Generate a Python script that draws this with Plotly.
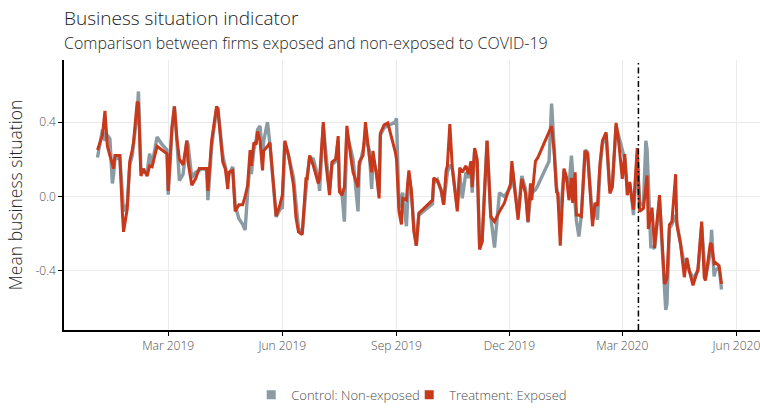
import plotly.graph_objects as go

# Daily mean business situation for exposed (treatment) and non-exposed (control) firms
dates = [
    "2019-01-03", "2019-01-07", "2019-01-09", "2019-01-11", "2019-01-13", "2019-01-15",
    "2019-01-16", "2019-01-17", "2019-01-21", "2019-01-23", "2019-01-24", "2019-01-27",
    "2019-01-29", "2019-01-31", "2019-02-01", "2019-02-04", "2019-02-05", "2019-02-07",
    "2019-02-09", "2019-02-12", "2019-02-14", "2019-02-16", "2019-02-20", "2019-02-24",
    "2019-02-28", "2019-03-01", "2019-03-04", "2019-03-06", "2019-03-08", "2019-03-10",
    "2019-03-13", "2019-03-16", "2019-03-17", "2019-03-20", "2019-03-23", "2019-03-26",
    "2019-03-29", "2019-04-01", "2019-04-02", "2019-04-05", "2019-04-09", "2019-04-10",
    "2019-04-14", "2019-04-16", "2019-04-18", "2019-04-19", "2019-04-22", "2019-04-24",
    "2019-04-27", "2019-04-30", "2019-05-02", "2019-05-04", "2019-05-06", "2019-05-07",
    "2019-05-09", "2019-05-11", "2019-05-12", "2019-05-14", "2019-05-16", "2019-05-17",
    "2019-05-20", "2019-05-22", "2019-05-24", "2019-05-27", "2019-05-30", "2019-06-01",
    "2019-06-03", "2019-06-06", "2019-06-10", "2019-06-12", "2019-06-14", "2019-06-17",
    "2019-06-20", "2019-06-21", "2019-06-23", "2019-06-26", "2019-06-30", "2019-07-01",
    "2019-07-04", "2019-07-06", "2019-07-09", "2019-07-11", "2019-07-14", "2019-07-16",
    "2019-07-17", "2019-07-19", "2019-07-21", "2019-07-23", "2019-07-26", "2019-07-28",
    "2019-08-01", "2019-08-02", "2019-08-05", "2019-08-07", "2019-08-10", "2019-08-12",
    "2019-08-13", "2019-08-16", "2019-08-18", "2019-08-19", "2019-08-22", "2019-08-25",
    "2019-08-31", "2019-09-01", "2019-09-03", "2019-09-05", "2019-09-06", "2019-09-09",
    "2019-09-10", "2019-09-11", "2019-09-13", "2019-09-15", "2019-09-17", "2019-09-19",
    "2019-09-30", "2019-10-01", "2019-10-04", "2019-10-07", "2019-10-09", "2019-10-11",
    "2019-10-12", "2019-10-14", "2019-10-16", "2019-10-20", "2019-10-22", "2019-10-24",
    "2019-10-27", "2019-10-29", "2019-10-31", "2019-11-01", "2019-11-03", "2019-11-05",
    "2019-11-07", "2019-11-09", "2019-11-13", "2019-11-16", "2019-11-19", "2019-11-23",
    "2019-11-27", "2019-12-02", "2019-12-03", "2019-12-06", "2019-12-08", "2019-12-11",
    "2019-12-14", "2019-12-16", "2019-12-18", "2019-12-19", "2019-12-22", "2019-12-24",
    "2020-01-02", "2020-01-04", "2020-01-06", "2020-01-08", "2020-01-09", "2020-01-11",
    "2020-01-14", "2020-01-16", "2020-01-18", "2020-01-20", "2020-01-21", "2020-01-23",
    "2020-01-24", "2020-01-26", "2020-01-28", "2020-01-31", "2020-02-02", "2020-02-06",
    "2020-02-08", "2020-02-10", "2020-02-12", "2020-02-14", "2020-02-17", "2020-02-20",
    "2020-02-22", "2020-02-25", "2020-02-27", "2020-03-01", "2020-03-02", "2020-03-03",
    "2020-03-05", "2020-03-07", "2020-03-09", "2020-03-10", "2020-03-13", "2020-03-15",
    "2020-03-18", "2020-03-20", "2020-03-21", "2020-03-22", "2020-03-24", "2020-03-25",
    "2020-03-27", "2020-03-31", "2020-04-04", "2020-04-05", "2020-04-06", "2020-04-08",
    "2020-04-10", "2020-04-13", "2020-04-14", "2020-04-17", "2020-04-20", "2020-04-22",
    "2020-04-24", "2020-04-27", "2020-04-29", "2020-05-01", "2020-05-04", "2020-05-06",
    "2020-05-07", "2020-05-11", "2020-05-12", "2020-05-14", "2020-05-15", "2020-05-18",
    "2020-05-20",
]

treatment = [
    0.25, 0.33, 0.46, 0.27, 0.22, 0.17, 0.15, 0.22, 0.22, -0.08, -0.19, -0.065,
    0.19, 0.25, 0.29, 0.51, 0.50, 0.11, 0.15, 0.11, 0.165, 0.16, 0.27, 0.25,
    0.23, 0.03, 0.37, 0.485, 0.31, 0.20, 0.17, 0.30, 0.185, 0.06, 0.095, 0.15,
    0.15, 0.15, 0.03, 0.30, 0.485, 0.47, 0.185, 0.15, 0.04, 0.13, 0.14, -0.08,
    -0.045, -0.045, 0.0, 0.06, 0.25, 0.165, 0.29, 0.28, 0.35, 0.30, 0.14, 0.245,
    0.27, 0.29, 0.13, -0.105, -0.045, 0.007, 0.30, 0.22, 0.06, -0.115, -0.19, -0.205,
    0.095, 0.095, 0.22, 0.165, 0.07, 0.10, 0.40, 0.185, 0.007, 0.185, 0.20, 0.325,
    0.026, 0.007, 0.05, 0.38, 0.22, 0.13, 0.05, 0.185, 0.22, 0.40, 0.22, 0.13,
    0.245, 0.11, -0.01, 0.34, 0.385, 0.395, 0.24, 0.20, -0.08, -0.15, -0.01, -0.02,
    0.07, 0.14, 0.03, -0.19, -0.265, -0.09, -0.02, 0.10, 0.085, 0.035, -0.045, 0.14,
    0.165, 0.39, 0.155, -0.08, 0.155, 0.13, 0.165, 0.12, 0.19, 0.05, 0.26, 0.20,
    -0.285, -0.245, 0.30, -0.107, -0.135, -0.08, -0.035, 0.07, 0.19, -0.02, -0.125, 0.095,
    0.016, -0.135, 0.07, -0.02, 0.19, 0.21, 0.34, 0.378, 0.245, 0.025, 0.016, -0.265,
    0.15, 0.105, -0.02, 0.10, -0.035, 0.13, -0.10, -0.10, -0.107, 0.245, 0.23, -0.16,
    -0.035, -0.05, 0.175, 0.30, 0.345, 0.016, 0.05, 0.396, 0.30, 0.095, 0.16, 0.228,
    0.007, 0.078, -0.028, -0.07, 0.26, -0.08, -0.064, 0.05, 0.113, -0.175, -0.10, -0.06,
    -0.276, 0.007, -0.47, -0.46, -0.44, -0.152, -0.135, 0.12, -0.152, -0.258, -0.434, -0.33,
    -0.40, -0.478, -0.434, -0.39, -0.135, -0.434, -0.452, -0.25, -0.26, -0.36, -0.355, -0.373,
    -0.47,
]

control = [
    0.21, 0.36, 0.30, 0.33, 0.31, 0.07, 0.12, 0.20, 0.21, -0.04, -0.08, -0.04,
    0.17, 0.22, 0.28, 0.45, 0.565, 0.14, 0.13, 0.13, 0.23, 0.17, 0.32, 0.28,
    0.25, 0.01, 0.36, 0.485, 0.30, 0.085, 0.12, 0.30, 0.28, 0.10, 0.13, 0.14,
    0.15, 0.14, -0.02, 0.27, 0.47, 0.48, 0.22, 0.16, 0.10, 0.12, 0.16, -0.05,
    -0.12, -0.15, -0.18, 0.02, 0.19, 0.12, 0.25, 0.31, 0.36, 0.38, 0.22, 0.30,
    0.40, 0.28, 0.13, -0.11, -0.07, -0.06, 0.29, 0.22, 0.10, -0.06, -0.17, -0.20,
    0.05, 0.11, 0.21, 0.20, 0.10, 0.03, 0.38, 0.22, 0.03, 0.17, 0.19, 0.30,
    0.05, 0.02, -0.135, 0.34, 0.26, 0.20, -0.08, 0.16, 0.25, 0.32, 0.25, 0.04,
    0.20, 0.13, 0.02, 0.33, 0.37, 0.38, 0.40, 0.42, -0.06, 0.0, 0.02, -0.16,
    0.05, 0.12, 0.02, -0.16, -0.265, -0.10, -0.04, 0.07, 0.09, 0.03, -0.04, 0.10,
    0.13, 0.17, 0.15, -0.06, 0.12, -0.01, 0.13, 0.10, 0.17, 0.02, 0.25, 0.18,
    -0.27, -0.24, 0.30, -0.11, -0.275, 0.02, 0.0, 0.05, 0.16, 0.0, -0.10, 0.11,
    0.04, -0.14, 0.0, 0.02, 0.035, 0.06, 0.19, 0.50, 0.30, 0.05, 0.02, -0.12,
    0.14, 0.10, 0.05, 0.22, 0.13, -0.05, -0.13, -0.215, -0.10, 0.25, 0.24, -0.12,
    -0.05, -0.125, 0.15, 0.28, 0.33, 0.03, 0.07, 0.38, 0.33, 0.25, 0.237, 0.20,
    0.05, 0.07, -0.03, -0.10, 0.22, -0.03, -0.05, 0.30, 0.25, 0.05, -0.27, -0.27,
    -0.28, -0.02, -0.56, -0.61, -0.58, -0.17, -0.15, -0.10, -0.14, -0.25, -0.37, -0.34,
    -0.40, -0.44, -0.42, -0.40, -0.16, -0.40, -0.44, -0.30, -0.18, -0.43, -0.40, -0.38,
    -0.50,
]

x_tick_dates = ["2019-03-01", "2019-06-01", "2019-09-01", "2019-12-01", "2020-03-01", "2020-06-01"]
x_tick_labels = ["Mar 2019", "Jun 2019", "Sep 2019", "Dec 2019", "Mar 2020", "Jun 2020"]
y_tick_values = [-0.4, 0.0, 0.4]
y_tick_labels = ["-0.4", "0.0", "0.4"]
covid_date = "2020-03-14"

GREY = "#8a9ba3"
RED = "#c8381b"
FONT = "Open Sans"
TEXT = "#4d4d4d"

fig = go.Figure()

fig.add_trace(go.Scatter(
    x=dates, y=control, mode="lines", name="Control: Non-exposed",
    line=dict(color=GREY, width=3.4), showlegend=False,
))
fig.add_trace(go.Scatter(
    x=dates, y=treatment, mode="lines", name="Treatment: Exposed",
    line=dict(color=RED, width=3.0), showlegend=False,
))

# square legend keys, one legend box each so the spacing can be set
for label, colour, legend_id in [("Control: Non-exposed", GREY, "legend"),
                                 ("Treatment: Exposed", RED, "legend2")]:
    fig.add_trace(go.Scatter(
        x=[None], y=[None], mode="markers", name=label, legend=legend_id,
        marker=dict(symbol="square", size=9, color=colour),
    ))

fig.add_shape(
    type="line", xref="x", yref="paper", x0=covid_date, x1=covid_date, y0=0, y1=1,
    line=dict(color="black", width=1.5, dash="6px,3px,1.5px,3px"),
)

fig.add_annotation(
    text="Business situation indicator", xref="paper", yref="paper",
    x=-0.003, y=1.157, xanchor="left", yanchor="middle", showarrow=False,
    font=dict(family=FONT, size=19, color="#1a1a1a", weight=300),
)
fig.add_annotation(
    text="Comparison between firms exposed and non-exposed to COVID-19",
    xref="paper", yref="paper", x=-0.003, y=1.064, xanchor="left", yanchor="middle",
    showarrow=False, font=dict(family=FONT, size=16, color="#262626", weight=300),
)

axis_common = dict(
    showline=True, linecolor="black", linewidth=1.5, mirror=False,
    ticks="outside", ticklen=4, tickwidth=1.2, tickcolor="black",
    showgrid=True, gridcolor="#ebebeb", gridwidth=1.2, zeroline=False,
    ticklabeloverflow="allow",
    tickfont=dict(family=FONT, size=12, color=TEXT, weight=300),
)

legend_common = dict(
    orientation="h", y=-0.24, yanchor="middle", xanchor="left",
    font=dict(family=FONT, size=13, color=TEXT, weight=300),
    itemwidth=30, bgcolor="rgba(0,0,0,0)",
)

fig.update_layout(
    width=760, height=410,
    margin=dict(l=64, r=0, t=60, b=76),
    paper_bgcolor="white", plot_bgcolor="white",
    font=dict(family=FONT, color=TEXT, weight=300),
    xaxis=dict(
        type="date", range=["2018-12-07", "2020-06-20"],
        tickvals=x_tick_dates, ticktext=x_tick_labels, **axis_common,
    ),
    yaxis=dict(
        range=[-0.718, 0.734], tickvals=y_tick_values, ticktext=y_tick_labels,
        title=dict(text="Mean business situation", standoff=8,
                   font=dict(family=FONT, size=17.5, color="#262626", weight=300)),
        **axis_common,
    ),
    legend=dict(x=0.269, **legend_common),
    legend2=dict(x=0.496, **legend_common),
)

fig.write_html("out.html")
